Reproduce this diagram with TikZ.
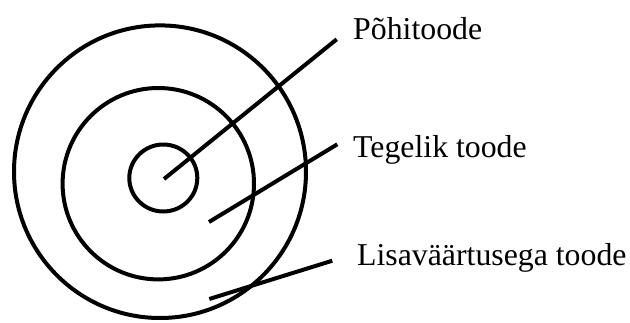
\documentclass[tikz,border=0pt]{standalone}
\usepackage{fontspec}
\setmainfont{Liberation Serif}
\begin{document}
\begin{tikzpicture}[
	x=1pt,
	y=-1pt,
	ring/.style={draw=black, line width=4pt},
	pointer/.style={draw=black, line width=4pt},
	label/.style={anchor=base west, inner sep=0pt, font=\fontsize{31.8}{36}\selectfont}
	]
	\useasboundingbox (0,0) rectangle (630,322);

	% the three layers of the product
	\draw[ring] (160,171.7) ellipse (146 and 146.3);
	\draw[ring] (158.3,183.7) circle (95.7);
	\draw[ring] (163.3,178) ellipse (34 and 33.5);

	\node[label] (core) at (353,39) {Põhitoode};
	\node[label] (actual) at (353,157) {Tegelik toode};
	\node[label] (augmented) at (357,265) {Lisaväärtusega toode};

	\coordinate (core tip) at (164,179);
	\coordinate (core end) at (336.7,39.3);
	\coordinate (actual tip) at (209,222);
	\coordinate (actual end) at (337.3,144.3);
	\coordinate (augmented tip) at (209.3,299);
	\coordinate (augmented end) at (332.3,260.7);

	\draw[pointer] (core tip) -- (core end);
	\draw[pointer] (actual tip) -- (actual end);
	\draw[pointer] (augmented tip) -- (augmented end);
\end{tikzpicture}
\end{document}
